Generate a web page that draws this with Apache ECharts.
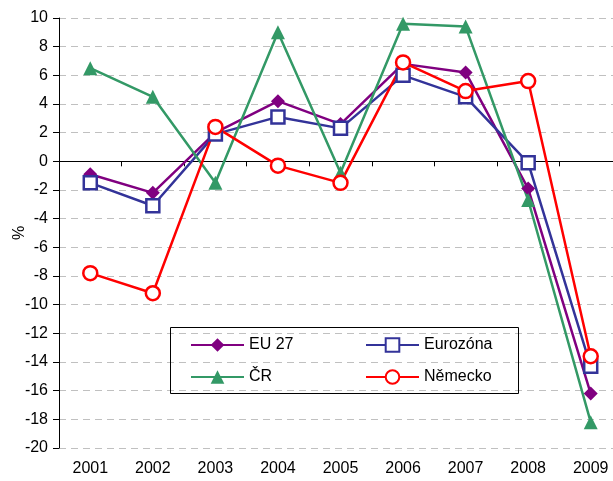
<!DOCTYPE html>
<html><head><meta charset="utf-8">
<script src="https://cdn.jsdelivr.net/npm/echarts@6/dist/echarts.min.js"></script>
<style>html,body{margin:0;padding:0;background:#fff}#c{width:613px;height:481px}</style>
</head><body><div id="c"></div>
<script>
const years = ['2001','2002','2003','2004','2005','2006','2007','2008','2009'];
const eu27 = [-0.9, -2.2, 2.0, 4.2, 2.6, 6.8, 6.2, -1.9, -16.2];
const eurozona = [-1.5, -3.1, 1.9, 3.1, 2.3, 6.0, 4.5, -0.1, -14.3];
const cr = [6.5, 4.5, -1.5, 9.0, -0.8, 9.6, 9.4, -2.7, -18.2];
const nemecko = [-7.8, -9.2, 2.4, -0.3, -1.5, 6.9, 4.9, 5.6, -13.6];
const names = ['EU 27', 'Eurozóna', 'ČR', 'Německo'];

const font = 'Liberation Sans, Arial, sans-serif';
const chart = echarts.init(document.getElementById('c'));
const lw = 2.5;
chart.setOption({
  animation: false,
  backgroundColor: '#fff',
  textStyle: {fontFamily: font},
  grid: {left: 59, top: 18, bottom: 33, right: -9, containLabel: false, outerBoundsMode: 'none'},
  xAxis: [
    {type: 'category', data: years, boundaryGap: true, position: 'bottom',
     axisLine: {show: false, onZero: false}, axisTick: {show: false},
     axisLabel: {color: '#000', fontSize: 16, fontFamily: font, margin: 13}},
    {type: 'category', data: years, boundaryGap: true, position: 'bottom',
     axisLine: {show: true, onZero: true, lineStyle: {color: '#000', width: 1}},
     axisTick: {show: true, length: 5, lineStyle: {color: '#000'}},
     axisLabel: {show: false}}
  ],
  yAxis: {type: 'value', min: -20, max: 10, interval: 2,
    name: '%', nameLocation: 'middle', nameGap: 31, nameRotate: 90, nameMoveOverlap: false,
    nameTextStyle: {color: '#000', fontSize: 16, fontFamily: font},
    axisLine: {show: true, onZero: false, lineStyle: {color: '#000'}},
    axisTick: {show: true, length: 6, lineStyle: {color: '#000'}},
    axisLabel: {color: '#000', fontSize: 16, fontFamily: font, margin: 11},
    splitLine: {show: true, lineStyle: {color: '#c0c0c0', type: [7, 5], width: 1}}
  },
  legend: [
    {data: [names[0], names[2]], orient: 'vertical', left: 190, top: 337, padding: 0,
     itemWidth: 53, itemHeight: 17, itemGap: 16,
     textStyle: {fontSize: 16, color: '#000', fontFamily: font}},
    {data: [names[1], names[3]], orient: 'vertical', left: 365, top: 337, padding: 0,
     itemWidth: 53, itemHeight: 17, itemGap: 16,
     textStyle: {fontSize: 16, color: '#000', fontFamily: font}}
  ],
  graphic: [{type: 'rect', shape: {x: 170.5, y: 327.5, width: 348, height: 66},
    style: {fill: 'rgba(255,255,255,0)', stroke: '#000', lineWidth: 1}, z: 100}],
  series: [
    {name: names[0], type: 'line', data: eu27, symbol: 'diamond', symbolSize: 14,
     lineStyle: {color: '#800080', width: lw}, itemStyle: {color: '#800080'}},
    {name: names[1], type: 'line', data: eurozona, symbol: 'rect', symbolSize: 13,
     lineStyle: {color: '#333399', width: lw}, itemStyle: {color: '#fff', borderColor: '#333399', borderWidth: 2.5}},
    {name: names[2], type: 'line', data: cr, symbol: 'triangle', symbolSize: 14,
     lineStyle: {color: '#339966', width: lw}, itemStyle: {color: '#339966'}},
    {name: names[3], type: 'line', data: nemecko, symbol: 'circle', symbolSize: 14,
     lineStyle: {color: '#ff0000', width: lw}, itemStyle: {color: '#fff', borderColor: '#ff0000', borderWidth: 2.5}}
  ]
});
</script></body></html>
